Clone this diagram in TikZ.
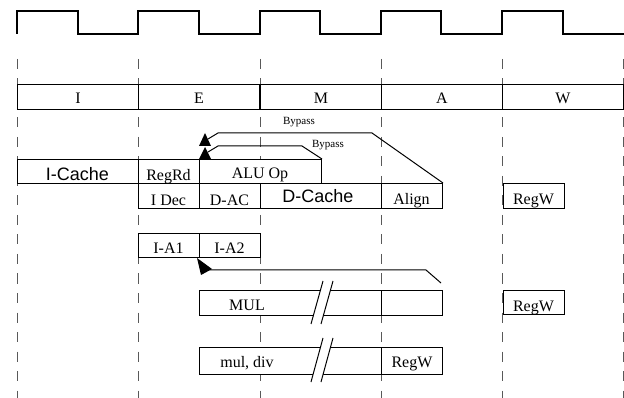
\documentclass[tikz,border=0pt]{standalone}
\usepackage{fontspec}
\setmainfont{Liberation Serif}
\newfontfamily\arialf{Liberation Sans}
\begin{document}
\begin{tikzpicture}[x=1pt,y=-1pt,
  boxs/.style={draw, line width=1pt, fill=white, inner sep=0pt, anchor=north west},
  cell/.style={draw, line width=1pt, fill=white, inner sep=0pt, anchor=north west,
    minimum width=121pt, minimum height=25pt, text height=13pt, text depth=0pt,
    font=\fontsize{16}{16}\selectfont},
  lbl/.style={font=\fontsize{16}{16}\selectfont, anchor=base, inner sep=0pt},
  big/.style={font=\arialf\fontsize{18}{18}\selectfont, anchor=base, inner sep=0pt},
  small/.style={font=\fontsize{11}{11}\selectfont, anchor=base, inner sep=0pt},
  dashln/.style={black!65, line width=0.8pt, dash pattern=on 10pt off 9.5pt},
  wire/.style={line width=1pt},
  clk/.style={line width=1.2pt},
]
\useasboundingbox (0,0) rectangle (624,398);
% clock
\draw[clk] (17,34) -- (17,11) -- (78,11) -- (78,34) -- (138,34) -- (138,11) -- (199,11) -- (199,34)
  -- (260,34) -- (260,11) -- (320,11) -- (320,34) -- (381,34) -- (381,11) -- (441,11) -- (441,34)
  -- (502,34) -- (502,11) -- (563,11) -- (563,34) -- (624,34);
% dashed phase lines
\foreach \xx in {17,138,260,381,502,623} \draw[dashln] (\xx,59) -- (\xx,398);
% stage bar
\node[cell] (sI) at (17,84) {I};
\node[cell] (sE) at (138,84) {E};
\node[cell] (sM) at (260,84) {M};
\node[cell] (sA) at (381,84) {A};
\node[cell] (sW) at (502,84) {W};
% boxes
\node[boxs, minimum width=121pt, minimum height=24pt] (icache) at (17,159) {};
\node[boxs, minimum width=61pt, minimum height=24pt] (regrd) at (138,159) {};
\node[boxs, minimum width=122pt, minimum height=24pt] (aluop) at (199,159) {};
\node[boxs, minimum width=61pt, minimum height=25pt] (idec) at (138,183) {};
\node[boxs, minimum width=61pt, minimum height=25pt] (dac) at (199,183) {};
\node[boxs, minimum width=121pt, minimum height=25pt] (dcache) at (260,183) {};
\node[boxs, minimum width=61pt, minimum height=25pt] (align) at (381,183) {};
\node[boxs, minimum width=61pt, minimum height=25pt] (regwA) at (503,183) {};
\node[boxs, minimum width=61pt, minimum height=24pt] (ia1) at (138,233) {};
\node[boxs, minimum width=61pt, minimum height=24pt] (ia2) at (199,233) {};
\node[boxs, minimum width=182pt, minimum height=25pt] (mulL) at (199,290) {};
\node[boxs, minimum width=61pt, minimum height=25pt] (mulR) at (381,290) {};
\node[boxs, minimum width=61pt, minimum height=24pt] (regwB) at (503,290) {};
\node[boxs, minimum width=182pt, minimum height=27pt] (divL) at (199,347) {};
\node[boxs, minimum width=61pt, minimum height=27pt] (divR) at (381,347) {};
% labels
\node[big] (ticache) at (77.5,181) {I-Cache};
\node[lbl] (tregrd) at (168.5,181) {RegRd};
\node[lbl] (taluop) at (260,179) {ALU Op};
\node[lbl] (tidec) at (168.5,206) {I Dec};
\node[lbl] (tdac) at (229.5,206) {D-AC};
\node[big] (tdcache) at (318,203) {D-Cache};
\node[lbl] (talign) at (411.5,205) {Align};
\node[lbl] (tregwA) at (533.5,205) {RegW};
\node[lbl] (tia1) at (168.5,254) {I-A1};
\node[lbl] (tia2) at (229.5,254) {I-A2};
\node[lbl] (tmul) at (247,310) {MUL};
\node[lbl] (tregwB) at (533.5,311) {RegW};
\node[lbl] (tdiv) at (247,367) {mul, div};
\node[lbl] (tregwC) at (412,367) {RegW};
\node[small] (tbyp1) at (299,125) {Bypass};
\node[small] (tbyp2) at (328,148) {Bypass};
% break marks
\fill[white] (311,324) -- (323,281) -- (333,281) -- (321,324) -- cycle;
\draw[wire] (311,324) -- (323,281) (321,324) -- (333,281);
\fill[white] (311,382) -- (323,338) -- (333,338) -- (321,382) -- cycle;
\draw[wire] (311,382) -- (323,338) (321,382) -- (333,338);
% bypass paths
\coordinate (b1a) at (372,133);
\coordinate (b1b) at (218,133);
\coordinate (b1c) at (208,139);
\draw[wire] (align.north east) -- (b1a) -- (b1b) -- (b1c);
\fill (205,133) -- (199,146) -- (211,146) -- cycle;
\coordinate (b2a) at (302,146);
\coordinate (b2b) at (218,146);
\coordinate (b2c) at (208,152);
\draw[wire] (aluop.north east) -- (b2a) -- (b2b) -- (b2c);
\fill (205,147) -- (199,159) -- (211,159) -- cycle;
% multiply result forwarding
\coordinate (m1) at (441,283);
\coordinate (m2) at (426,270);
\coordinate (m3) at (210,270);
\coordinate (m4) at (204,265);
\draw[wire] (m1) -- (m2) -- (m3) -- (m4);
\fill (197,258) -- (212,269) -- (201,275) -- cycle;
\end{tikzpicture}
\end{document}
